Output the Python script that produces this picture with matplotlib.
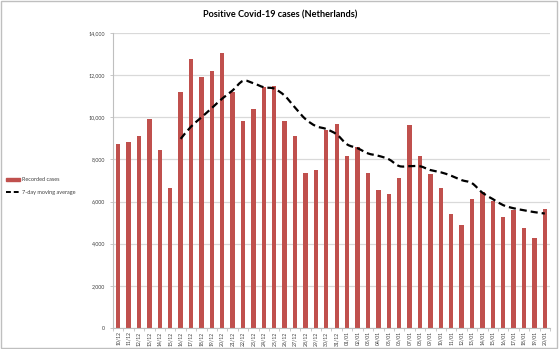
import matplotlib
matplotlib.use("Agg")
import matplotlib.pyplot as plt
from matplotlib.path import Path
from matplotlib.patches import PathPatch, Rectangle
from matplotlib.lines import Line2D
from matplotlib.ticker import FuncFormatter, FixedLocator
import numpy as np

# Daily dates (dd/mm)
dates = (["%02d/12" % d for d in range(10, 32)] +
         ["%02d/01" % d for d in range(1, 21)])

# Recorded positive tests per day
recorded_cases = [
    8720, 8850, 9090, 9900, 8470, 6630, 11180, 12780, 11920, 12200,
    13040, 11180, 9800, 10380, 11450, 11470, 9840, 9090, 7370, 7480,
    9400, 9660, 8160, 8570, 7370, 6570, 6350, 7120, 9620, 8140,
    7300, 6630, 5430, 4890, 6100, 6460, 6030, 5270, 5600, 4760,
    4270, 5640,
]

# 7-day moving average (first value on 16/12)
avg_start = 6
moving_average = [
    8977, 9557, 9996, 10440, 10889, 11276, 11729, 11614, 11424, 11360,
    11023, 10459, 9914, 9583, 9443, 9187, 8714, 8533, 8287, 8173,
    8011, 7686, 7680, 7677, 7496, 7390, 7227, 7019, 6873, 6421,
    6120, 5830, 5683, 5587, 5499, 5433,
]

y_ticks = [0, 2000, 4000, 6000, 8000, 10000, 12000, 14000]

BAR_RED = "#c0504d"
GRID = "#d9d9d9"
AXIS = "#bfbfbf"
TEXT = "#404040"
FONT = ["Lato", "DejaVu Sans"]

plt.rcParams["font.family"] = FONT

fig = plt.figure(figsize=(5.6, 3.49), dpi=100)
fig.patch.set_facecolor("white")
ax = fig.add_axes([113 / 560, 21 / 349, 437 / 560, 295 / 349])

x = np.arange(len(dates))
ax.bar(x, recorded_cases, width=0.42, color=BAR_RED, zorder=2)


def smooth_path(xs, ys, tension=1 / 6):
    """Cubic Bezier path through the points (spreadsheet-style smoothed line)."""
    pts = np.column_stack([xs, ys]).astype(float)
    verts = [pts[0]]
    codes = [Path.MOVETO]
    n = len(pts)
    for i in range(n - 1):
        p0 = pts[max(i - 1, 0)]
        p1 = pts[i]
        p2 = pts[i + 1]
        p3 = pts[min(i + 2, n - 1)]
        c1 = p1 + (p2 - p0) * tension
        c2 = p2 - (p3 - p1) * tension
        verts += [c1, c2, p2]
        codes += [Path.CURVE4] * 3
    return Path(verts, codes)


avg_x = x[avg_start:avg_start + len(moving_average)]
patch = PathPatch(smooth_path(avg_x, moving_average), facecolor="none",
                  edgecolor="black", lw=1.6, linestyle=(0, (3.2, 1.8)), zorder=3)
ax.add_patch(patch)

ax.set_xlim(-0.5, len(dates) - 0.5)
ax.set_ylim(0, 14000)

ax.yaxis.set_major_locator(FixedLocator(y_ticks))
ax.yaxis.set_major_formatter(FuncFormatter(lambda v, p: f"{int(v):,}"))
ax.grid(axis="y", color=GRID, lw=0.9, zorder=0)
ax.set_axisbelow(True)

ax.set_xticks(x)
ax.set_xticklabels(dates, rotation=90, fontsize=3.7, color=TEXT)
ax.xaxis.set_minor_locator(FixedLocator(np.arange(-0.5, len(dates), 1.0)))
ax.tick_params(axis="x", which="major", length=0, pad=2.5)
ax.tick_params(axis="x", which="minor", length=2.5, width=0.6, color=AXIS)
ax.tick_params(axis="y", length=2.5, width=0.6, color=AXIS, labelsize=3.8,
               labelcolor=TEXT, pad=3)

for side in ("top", "right"):
    ax.spines[side].set_visible(False)
for side in ("left", "bottom"):
    ax.spines[side].set_color(AXIS)
    ax.spines[side].set_linewidth(0.8)

fig.text(0.5, 1 - 15 / 349, "Positive Covid-19 cases (Netherlands)",
         ha="center", va="center", fontsize=6.6, fontweight="bold",
         color="black")

# Legend on the left
handles = [
    Rectangle((0, 0), 1, 1, color=BAR_RED),
    Line2D([0], [0], color="black", lw=1.4, linestyle=(0, (2.5, 1.5))),
]
fig.legend(handles, ["Recorded cases", "7-day moving average"],
           loc="center left", bbox_to_anchor=(0.0, 1 - 186 / 349),
           frameon=False, fontsize=4.0, handlelength=2.6, handleheight=0.45,
           handletextpad=0.4, labelspacing=1.3, borderaxespad=0.6,
           labelcolor=TEXT)

# Chart border
fig.add_artist(Rectangle((0.001, 0.002), 0.993, 0.995,
                         transform=fig.transFigure, fill=False,
                         edgecolor="#bfbfbf", lw=1.0))

fig.savefig("out.png", dpi=100)
